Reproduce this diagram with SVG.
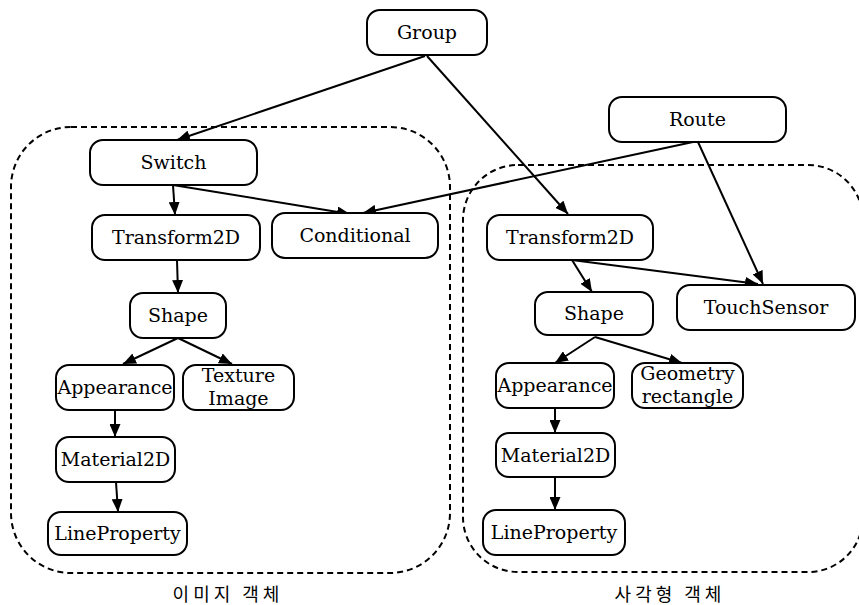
<svg xmlns="http://www.w3.org/2000/svg" width="859" height="605" viewBox="0 0 859 605">
<defs>
<marker id="ah" markerUnits="userSpaceOnUse" markerWidth="13" markerHeight="11" refX="13" refY="5.5" orient="auto">
<path d="M0,0 L13,5.5 L0,11 Z" fill="#000"/>
</marker>
<style>
.box{fill:#fff;stroke:#000;stroke-width:2}
.t{font-family:"DejaVu Serif","Liberation Serif",serif;font-size:19px;fill:#000;text-anchor:middle}
.k{font-family:"Noto Sans CJK KR",sans-serif;font-size:18px;fill:#000;text-anchor:middle;letter-spacing:4px}
.c{fill:none;stroke:#000;stroke-width:2;stroke-dasharray:6,4}
.e{fill:none;stroke:#000;stroke-width:2;marker-end:url(#ah)}
</style>
</defs>
<rect width="859" height="605" fill="#fff"/>
<g id="containers">
<rect class="c" x="11" y="127" width="439" height="446" rx="60" ry="60"/>
<rect class="c" x="463" y="165" width="400" height="407" rx="55" ry="55"/>
</g>
<g id="connectors">
<line class="e" x1="425" y1="56" x2="177" y2="140"/>
<line class="e" x1="427" y1="56" x2="568" y2="214"/>
<line class="e" x1="173" y1="185" x2="175" y2="215"/>
<line class="e" x1="173" y1="185" x2="350" y2="214"/>
<line class="e" x1="693" y1="142" x2="363" y2="213"/>
<line class="e" x1="177" y1="260" x2="178" y2="293"/>
<line class="e" x1="178" y1="338" x2="123" y2="364"/>
<line class="e" x1="178" y1="338" x2="232" y2="364"/>
<line class="e" x1="115" y1="410" x2="115" y2="437"/>
<line class="e" x1="116" y1="482" x2="118" y2="512"/>
<line class="e" x1="572" y1="260" x2="592" y2="292"/>
<line class="e" x1="572" y1="260" x2="758" y2="284"/>
<line class="e" x1="698" y1="142" x2="763" y2="284"/>
<line class="e" x1="595" y1="337" x2="555" y2="363"/>
<line class="e" x1="595" y1="337" x2="682" y2="363"/>
<line class="e" x1="555" y1="408" x2="555" y2="433"/>
<line class="e" x1="555" y1="477" x2="555" y2="510"/>
</g>
<g id="n-group"><rect class="box" x="367" y="10" width="120" height="45" rx="13"/><text class="t" x="427" y="39">Group</text></g>
<g id="n-switch"><rect class="box" x="90" y="140" width="167" height="45" rx="13"/><text class="t" x="173.5" y="169">Switch</text></g>
<g id="n-t2d-l"><rect class="box" x="92" y="215" width="168" height="45" rx="13"/><text class="t" x="176" y="244">Transform2D</text></g>
<g id="n-cond"><rect class="box" x="272" y="213" width="166" height="45" rx="13"/><text class="t" x="355" y="242">Conditional</text></g>
<g id="n-shape-l"><rect class="box" x="130" y="293" width="96" height="45" rx="13"/><text class="t" x="178" y="322">Shape</text></g>
<g id="n-app-l"><rect class="box" x="56" y="365" width="118" height="45" rx="13"/><text class="t" x="115" y="394">Appearance</text></g>
<g id="n-tex"><rect class="box" x="183" y="365" width="111" height="45" rx="13"/><text class="t" x="238.5" y="382">Texture</text><text class="t" x="238.5" y="405">Image</text></g>
<g id="n-mat-l"><rect class="box" x="56" y="437" width="119" height="45" rx="13"/><text class="t" x="115.5" y="466">Material2D</text></g>
<g id="n-lp-l"><rect class="box" x="48" y="512" width="139" height="43" rx="13"/><text class="t" x="117.5" y="540">LineProperty</text></g>
<g id="n-route"><rect class="box" x="609" y="97" width="177" height="45" rx="13"/><text class="t" x="697.5" y="126">Route</text></g>
<g id="n-t2d-r"><rect class="box" x="487" y="215" width="166" height="45" rx="13"/><text class="t" x="570" y="244">Transform2D</text></g>
<g id="n-touch"><rect class="box" x="677" y="285" width="178" height="45" rx="13"/><text class="t" x="766" y="314">TouchSensor</text></g>
<g id="n-shape-r"><rect class="box" x="535" y="292" width="118" height="43" rx="13"/><text class="t" x="594" y="320">Shape</text></g>
<g id="n-app-r"><rect class="box" x="496" y="363" width="118" height="45" rx="13"/><text class="t" x="555" y="392">Appearance</text></g>
<g id="n-geo"><rect class="box" x="632" y="363" width="111" height="45" rx="13"/><text class="t" x="687.5" y="380">Geometry</text><text class="t" x="687.5" y="403">rectangle</text></g>
<g id="n-mat-r"><rect class="box" x="496" y="433" width="119" height="44" rx="13"/><text class="t" x="555.5" y="462">Material2D</text></g>
<g id="n-lp-r"><rect class="box" x="483" y="510" width="142" height="45" rx="13"/><text class="t" x="554" y="539">LineProperty</text></g>
<g id="labels">
<text class="k" x="228" y="601">이미지 객체</text>
<text class="k" x="670" y="601">사각형 객체</text>
</g>
</svg>
